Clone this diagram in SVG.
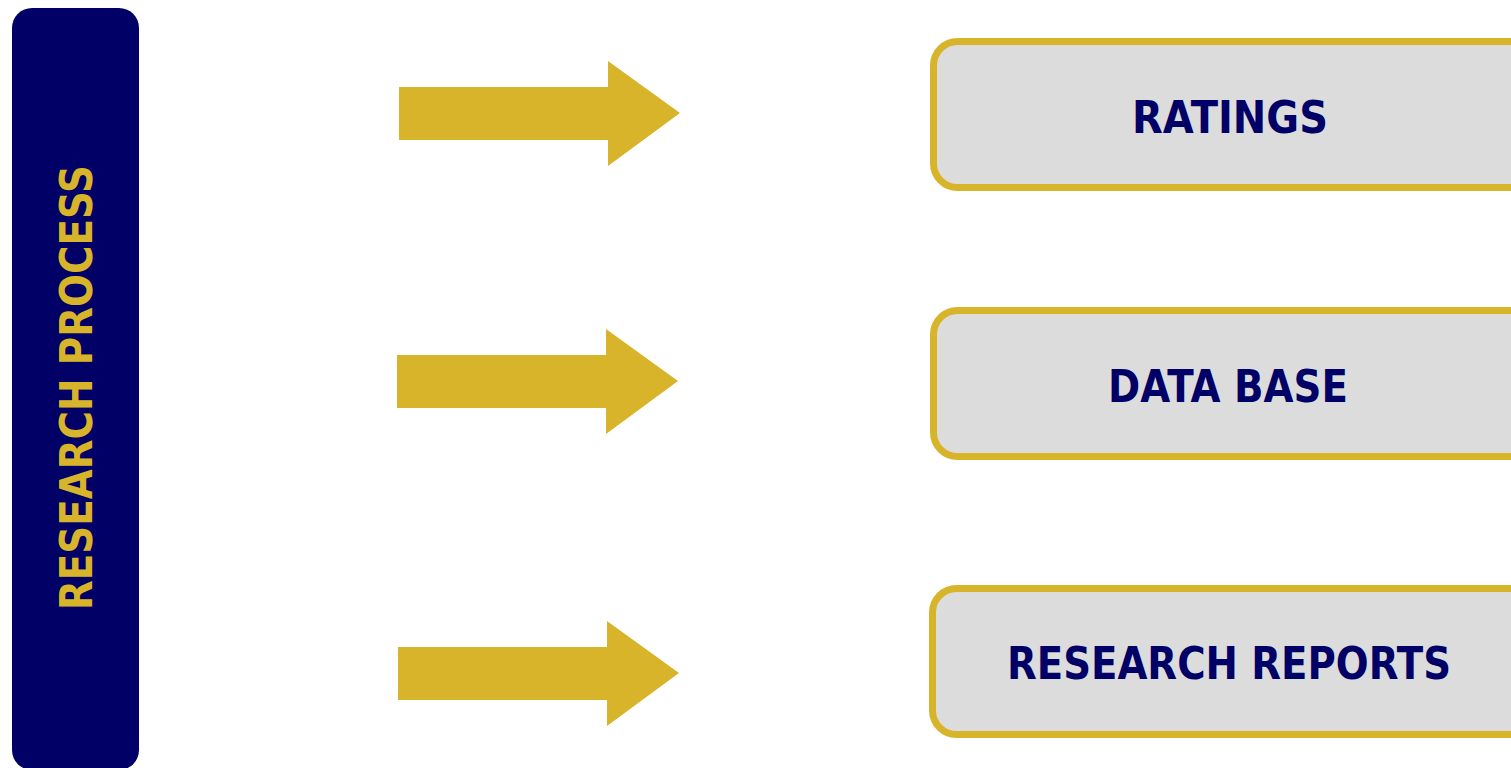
<svg xmlns="http://www.w3.org/2000/svg" width="1511" height="768" viewBox="0 0 1511 768">
<style>
.arrow{fill:#D8B42B}
.box{fill:#DCDCDC;stroke:#D8B42B;stroke-width:7}
.lbl{font-family:"DejaVu Sans","Liberation Sans",sans-serif;font-weight:bold;font-size:44px;fill:#000066;text-anchor:middle}
.side{font-family:"DejaVu Sans","Liberation Sans",sans-serif;font-weight:bold;font-size:45px;fill:#D8B42B;text-anchor:middle}
</style>
<rect width="1511" height="768" fill="#ffffff"/>
<g id="research-process">
<rect x="12" y="8" width="127" height="762" rx="20" fill="#000066"/>
<text class="side" transform="translate(92,387.5) rotate(-90)" textLength="445" lengthAdjust="spacingAndGlyphs">RESEARCH PROCESS</text>
</g>
<g id="connectors">
<polygon class="arrow" points="399,87 608,87 608,61 680,113 608,166 608,140 399,140"/>
<polygon class="arrow" points="397,355 606,355 606,329 678,381 606,434 606,408 397,408"/>
<polygon class="arrow" points="398,647 607,647 607,621 679,673 607,726 607,700 398,700"/>
</g>
<g id="ratings">
<rect class="box" x="933.5" y="41.5" width="610" height="146" rx="24"/>
<text class="lbl" x="1230" y="132.5" textLength="196" lengthAdjust="spacingAndGlyphs">RATINGS</text>
</g>
<g id="data-base">
<rect class="box" x="933.5" y="310.5" width="610" height="146" rx="24"/>
<text class="lbl" x="1228" y="402" textLength="240" lengthAdjust="spacingAndGlyphs">DATA BASE</text>
</g>
<g id="research-reports">
<rect class="box" x="932.5" y="588.5" width="610" height="146" rx="24"/>
<text class="lbl" x="1229" y="678.5" textLength="444" lengthAdjust="spacingAndGlyphs">RESEARCH REPORTS</text>
</g>
</svg>
